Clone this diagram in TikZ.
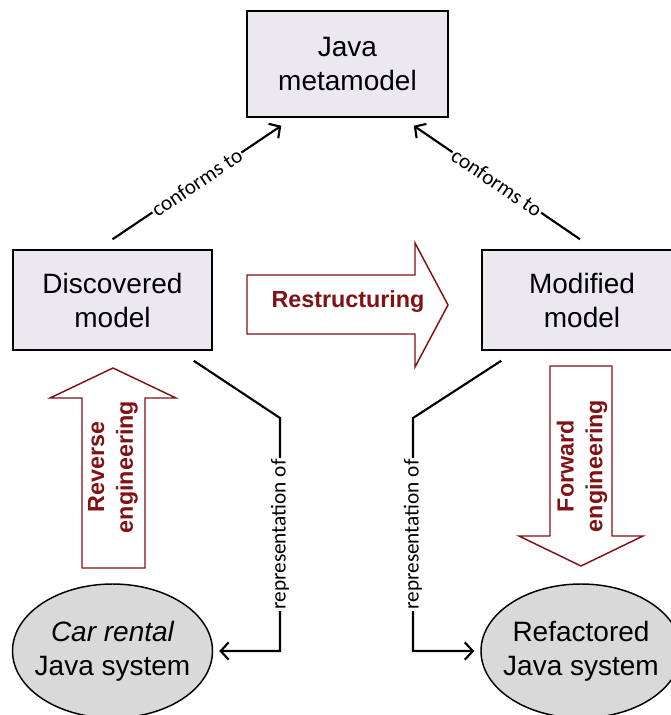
\documentclass[tikz,border=0pt]{standalone}
\usepackage{fontspec}
\setmainfont{Liberation Sans}
\newfontfamily\lblfont{Carlito}
\usetikzlibrary{arrows.meta,calc,shapes.geometric}
\definecolor{boxfill}{RGB}{235,232,240}
\definecolor{ellfill}{RGB}{217,217,217}
\definecolor{dred}{RGB}{128,18,22}
\begin{document}
\begin{tikzpicture}[x=0.75pt,y=-0.75pt,
  mbox/.style={draw, line width=1.1pt, fill=boxfill, align=center, inner sep=0pt,
    font=\fontsize{21}{25.5}\selectfont},
  sysell/.style={draw, ellipse, line width=1.1pt, fill=ellfill, inner sep=0pt,
    minimum width=150pt, minimum height=100.5pt},
  systxt/.style={align=center, inner sep=0pt, font=\fontsize{21}{25.5}\selectfont},
  conn/.style={line width=1.6pt, line join=miter},
  tip/.style={-{Straight Barb[length=6pt,width=13pt,line width=1.6pt]}},
  lbl/.style={fill=white, inner sep=1pt, font=\lblfont\fontsize{16}{18}\selectfont},
  blk/.style={draw=dred, line width=1.1pt, fill=white, line join=miter},
  blktxt/.style={text=dred, align=center, inner sep=0pt,
    font=\bfseries\fontsize{17.5}{21.5}\selectfont}]
\useasboundingbox (0,0) rectangle (671,715);
\fill[white] (0,0) rectangle (671,715);

% boxes
\node[mbox, minimum width=150.75pt, minimum height=79.5pt] (jm) at (347.5,64) {Java\\metamodel};
\node[mbox, minimum width=149.25pt, minimum height=75pt] (dm) at (112.5,300) {Discovered\\model};
\node[mbox, minimum width=150pt, minimum height=75pt] (mm) at (582,300) {Modified\\model};

% ellipses
\node[sysell] (car) at (112.5,651) {};
\node[systxt] (cartxt) at (car.center) {{\itshape Car rental}\\Java system};
\node[sysell] (ref) at (581,651) {};
\node[systxt] (reftxt) at (ref.center) {Refactored\\Java system};

% block arrows
\draw[blk] (247,275) -- (415,275) -- (415,243) -- (448,305) -- (415,367) -- (415,334) -- (247,334) -- cycle;
\node[blktxt] (restr) at (348,302) {Restructuring};

\draw[blk] (113,368) -- (176,398) -- (145,398) -- (145,568) -- (82,568) -- (82,398) -- (50,398) -- cycle;
\node[blktxt, rotate=90] (rev) at (113,467) {Reverse\\engineering};

\draw[blk] (550,366) -- (612,366) -- (612,536) -- (643,536) -- (581,566) -- (519,536) -- (550,536) -- cycle;
\node[blktxt, rotate=90] (fwd) at (582,466) {Forward\\engineering};

% conforms to
\draw[conn, tip] ([shift={(0,-10)}]dm.north) -- node[lbl, sloped] {conforms to} ([shift={(35,8)}]jm.south west);
\draw[conn, tip] ([shift={(-2,-10)}]mm.north) -- node[lbl, sloped] {conforms to} ([shift={(-35,8)}]jm.south east);

% representation of
\coordinate (l1) at (280,418);
\coordinate (r1) at (413,418);
\coordinate (lend) at ([shift={(6,0)}]car.east);
\coordinate (rend) at ([shift={(-6,0)}]ref.west);
\draw[conn, tip] ([shift={(-19,10)}]dm.south east) -- (l1) -- node[lbl, rotate=90] {representation of} (l1 |- lend) -- (lend);
\draw[conn, tip] ([shift={(20,10)}]mm.south west) -- (r1) -- node[lbl, rotate=90] {representation of} (r1 |- rend) -- (rend);
\end{tikzpicture}
\end{document}
